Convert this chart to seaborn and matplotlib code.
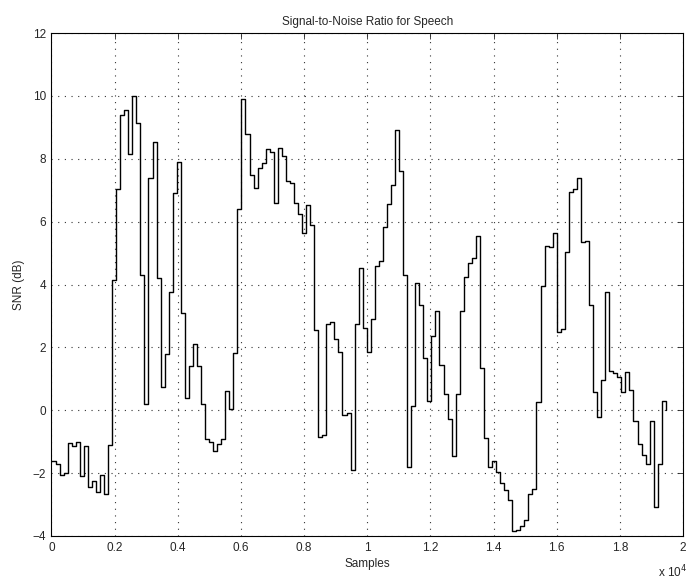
import numpy as np
import pandas as pd
import seaborn as sns
from matplotlib import pyplot as plt

# frame step (samples) and SNR per frame
frame_len = 128
snr_db = [
    -1.6, -1.7, -2.05, -2.0, -1.05, -1.15, -1.0, -2.1, -1.15, -2.45,
    -2.25, -2.6, -2.05, -2.65, -1.1, 4.13, 7.05, 9.4, 9.55, 8.15,
    10.0, 9.15, 4.3, 0.2, 7.4, 8.55, 4.2, 0.75, 1.8, 3.75,
    6.9, 7.9, 3.1, 0.4, 1.4, 2.1, 1.4, 0.2, -0.9, -1.0,
    -1.3, -1.06, -0.9, 0.62, 0.03, 1.83, 6.39, 9.89, 8.78, 7.48,
    7.06, 7.7, 7.88, 8.3, 8.23, 6.61, 8.33, 8.1, 7.28, 7.22,
    6.6, 6.23, 5.65, 6.53, 5.9, 2.55, -0.85, -0.8, 2.76, 2.81,
    2.28, 1.86, -0.16, -0.08, -1.89, 2.76, 4.54, 2.62, 1.86, 2.89,
    4.59, 4.75, 5.84, 6.55, 7.17, 8.92, 7.62, 4.3, -1.8, 0.14,
    4.06, 3.34, 1.67, 0.29, 2.36, 3.16, 1.43, 0.53, -0.27, -1.46,
    0.53, 3.16, 4.25, 4.67, 4.83, 5.55, 1.33, -0.87, -1.8, -1.62,
    -1.98, -2.3, -2.55, -2.85, -3.85, -3.8, -3.68, -3.5, -2.65, -2.49,
    0.27, 3.95, 5.22, 5.2, 5.65, 2.5, 2.57, 5.04, 6.93, 7.03,
    7.4, 5.36, 5.39, 3.34, 0.58, -0.21, 0.96, 3.75, 1.25, 1.2,
    1.06, 0.58, 1.22, 0.64, -0.34, -1.06, -1.43, -1.7, -0.34, -3.08,
    -1.7, 0.3, 0.0,
]
xtick_vals = [0, 2000, 4000, 6000, 8000, 10000, 12000, 14000, 16000, 18000, 20000]
xtick_labels = ["0", "0.2", "0.4", "0.6", "0.8", "1", "1.2", "1.4", "1.6", "1.8", "2"]
ytick_vals = [-4, -2, 0, 2, 4, 6, 8, 10, 12]


def make_frame():
    data = pd.DataFrame({"sample": np.arange(len(snr_db)) * frame_len, "snr": snr_db})
    return data


def plot_data(data, filename):
    sns.set_style("white")
    plt.rcParams["font.family"] = ["Liberation Sans", "DejaVu Sans"]
    fig = plt.figure(figsize=(6.92, 5.81), dpi=100)
    ax = fig.add_axes([0.0744, 0.0775, 0.9126, 0.8655])
    sns.lineplot(data=data, x="sample", y="snr", ax=ax, color="black",
                 linewidth=1.0, drawstyle="steps-post", estimator=None)
    ax.set_xlim(0, 20000)
    ax.set_ylim(-4, 12)
    ax.set_xticks(xtick_vals)
    ax.set_xticklabels(xtick_labels)
    ax.set_yticks(ytick_vals)
    ax.grid(True, linestyle=(0, (1, 5)), color="#333333", linewidth=0.8)
    ax.tick_params(direction="in", top=True, right=True, labelsize=8.5,
                   length=4, width=0.6, pad=4)
    for side in ax.spines.values():
        side.set_linewidth(0.8)
        side.set_color("black")
    ax.set_title("Signal-to-Noise Ratio for Speech", fontsize=8.5, pad=6)
    ax.set_xlabel("Samples", fontsize=8.5, labelpad=3)
    ax.set_ylabel("SNR (dB)", fontsize=8.5, labelpad=5)
    fig.text(0.993, 0.002, "x 10$^{4}$", ha="right", va="bottom", fontsize=8.5)
    plt.savefig(filename, dpi=100)
    print("Figure saved.")


def main():
    data = make_frame()
    plot_data(data, "out.png")


main()
